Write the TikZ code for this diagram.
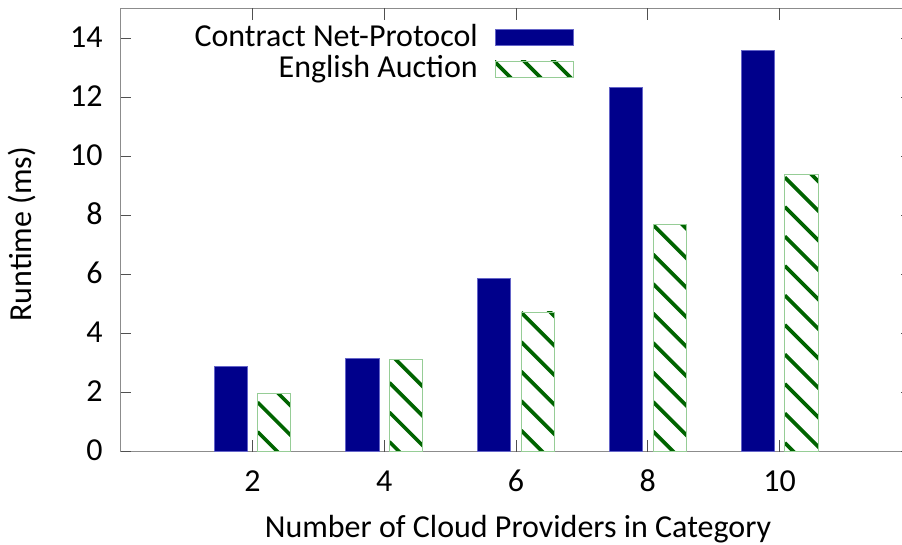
\documentclass[tikz,border=0pt]{standalone}
\usepackage{fontspec}
\setmainfont{Carlito}
\definecolor{barblue}{RGB}{0,0,139}
\definecolor{bluerim}{RGB}{100,100,200}
\definecolor{hatchgreen}{RGB}{0,100,0}
\definecolor{greenrim}{RGB}{150,205,150}
\definecolor{framegray}{RGB}{140,140,140}
\definecolor{tickgray}{RGB}{80,80,80}
\tikzset{
  frame/.style={draw=framegray, line width=1.3pt},
  tickmark/.style={draw=tickgray, line width=1pt},
  solidbar/.style={fill=barblue, draw=bluerim, line width=0.8pt},
  hatchline/.style={draw=hatchgreen, line width=3.6pt},
  hatchrim/.style={draw=greenrim, line width=0.9pt},
  label/.style={inner sep=0pt, font=\fontsize{32}{34}\selectfont},
}
\begin{document}
\begin{tikzpicture}[x=1pt,y=1pt]
\useasboundingbox (0,0) rectangle (902,544);

% axes frame (right edge runs past the page)
\draw[frame] (120.6,92.5) rectangle (911.4,535.5);

% y ticks and labels
\foreach \v in {0,2,...,14}{
  \pgfmathsetmacro\yy{92.5+29.5*\v}
  \draw[tickmark] (120.6,\yy) -- (130.6,\yy);
  \draw[tickmark] (911.4,\yy) -- (901.4,\yy);
  \node[label, anchor=base east] (ytick\v) at (102.7,\yy-9.2) {\v};
}

% x ticks and labels
\foreach \v in {2,4,...,10}{
  \pgfmathsetmacro\xx{120.6+65.9*\v}
  \draw[tickmark] (\xx,92.5) -- (\xx,104.5);
  \draw[tickmark] (\xx,535.5) -- (\xx,523.5);
  \node[label, anchor=base] (xtick\v) at (\xx,52.3) {\v};
}

% bars: x / contract net / english auction / hatch phase
\foreach \xv/\bv/\gv/\ph in {2/2.89/1.98/19.8, 4/3.14/3.12/9.8, 6/5.87/4.73/21, 8/12.35/7.69/20.2, 10/13.58/9.40/8.7}{
  \pgfmathsetmacro\xc{120.6+65.9*\xv}
  \pgfmathsetmacro\bt{92.5+29.5*\bv}
  \pgfmathsetmacro\gt{92.5+29.5*\gv}
  \pgfmathtruncatemacro\nk{\gv+2}
  \path[solidbar] (\xc-38.5,92.5) rectangle (\xc-5.2,\bt);
  \begin{scope}
    \clip (\xc+5.2,92.5) rectangle (\xc+38.5,\gt);
    \foreach \k in {-2,...,\nk}{
      \draw[hatchline] (\xc+5.2,92.5+\ph+29.5*\k) -- ++(45,-45);
    }
  \end{scope}
  \path[hatchrim] (\xc+5.2,92.5) rectangle (\xc+38.5,\gt);
}

% legend
\node[label, anchor=base east] (legcnp) at (478,497.3) {Contract Net-Protocol};
\node[label, anchor=base east] (legea) at (478,466.7) {English Auction};
\path[solidbar] (495,499) rectangle (573.3,514.7);
\begin{scope}
  \clip (495,466.7) rectangle (573.3,483);
  \foreach \k in {0,1,2}{
    \draw[hatchline] (492+30*\k,485) -- ++(19,-19);
  }
\end{scope}
\path[hatchrim] (495,466.7) rectangle (573.3,483);

% axis titles
\node[label, anchor=base] (xtitle) at (518,6.7) {Number of Cloud Providers in Category};
\node[label, anchor=base, rotate=90] (ytitle) at (31.7,309.8) {Runtime (ms)};
\end{tikzpicture}
\end{document}
